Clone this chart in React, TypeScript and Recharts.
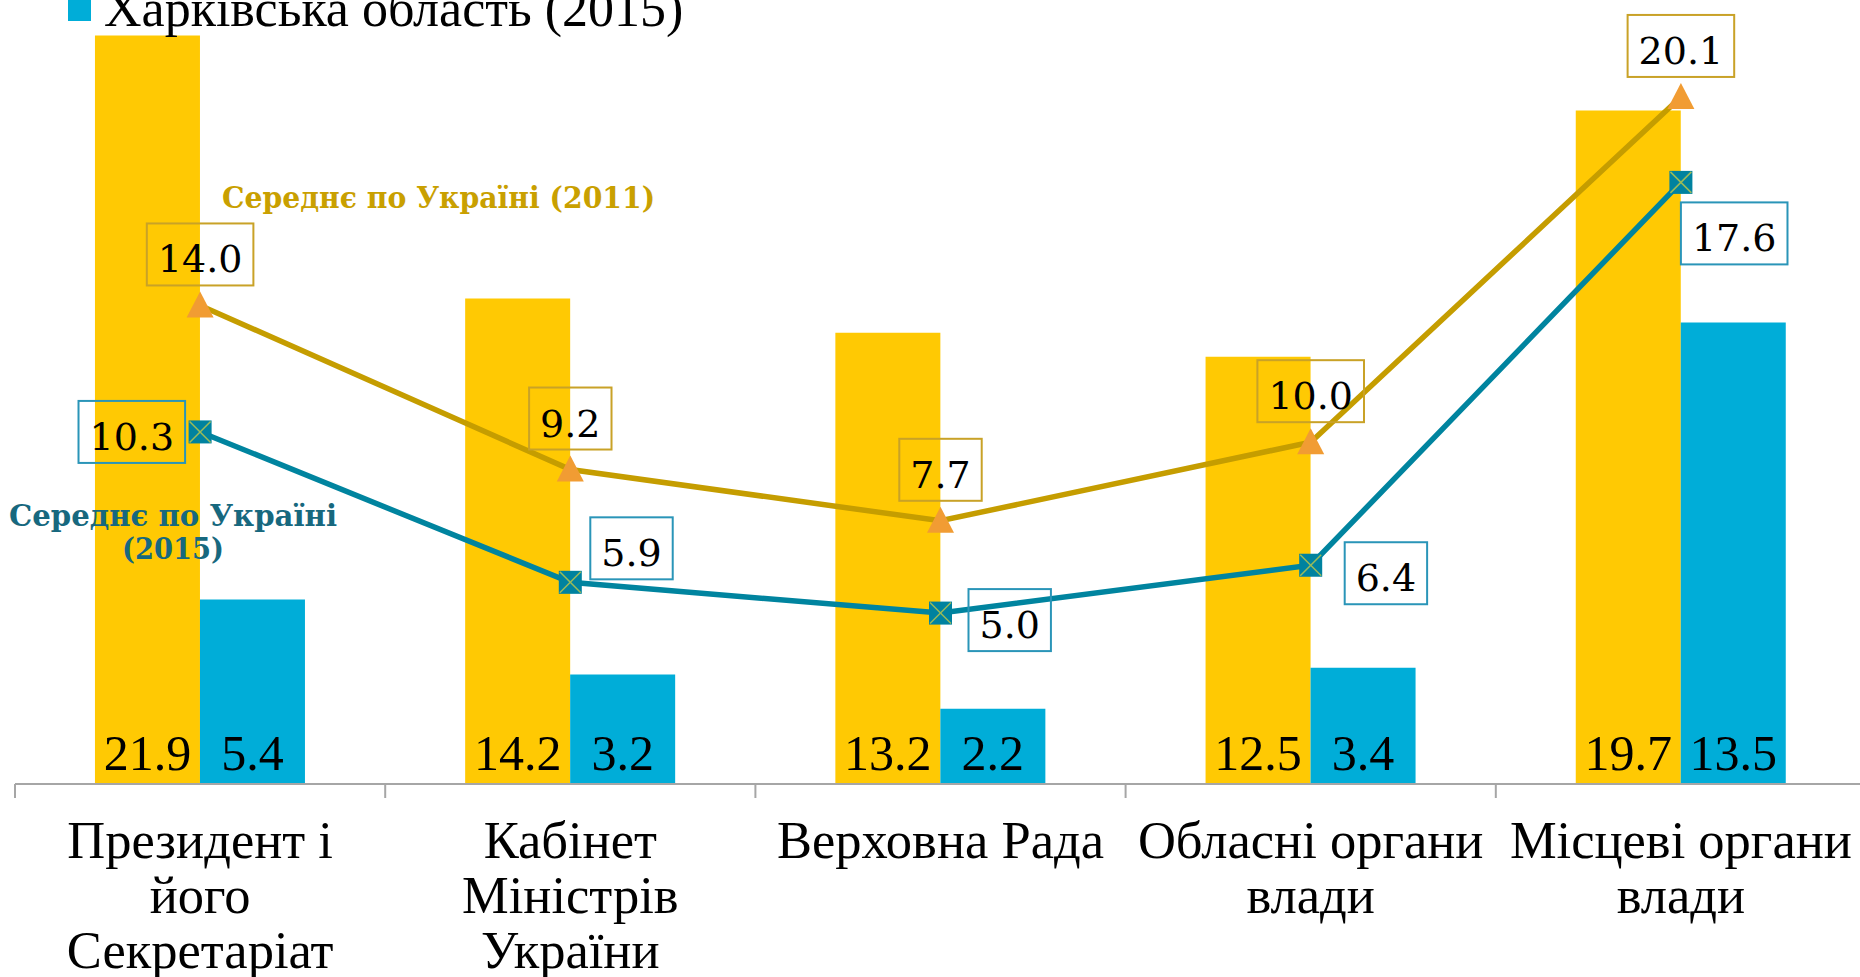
import React from 'react';
import { ComposedChart, Bar, Line, XAxis, YAxis, LabelList } from 'recharts';

const CATEGORIES = [
  'Президент і\nйого\nСекретаріат',
  'Кабінет\nМіністрів\nУкраїни',
  'Верховна Рада',
  'Обласні органи\nвлади',
  'Місцеві органи\nвлади',
];
const KHARKIV_2011 = [21.9, 14.2, 13.2, 12.5, 19.7];
const KHARKIV_2015 = [5.4, 3.2, 2.2, 3.4, 13.5];
const UKRAINE_2011 = [14.0, 9.2, 7.7, 10.0, 20.1];
const UKRAINE_2015 = [10.3, 5.9, 5.0, 6.4, 17.6];

const data = CATEGORIES.map((name, i) => ({
  name,
  k2011: KHARKIV_2011[i],
  k2015: KHARKIV_2015[i],
  u2011: UKRAINE_2011[i],
  u2015: UKRAINE_2015[i],
}));

const W = 1866;
const H = 977;
const MARGIN = { top: 32, right: 0, bottom: 0, left: 15 };
const BAND = (W - MARGIN.left - MARGIN.right) / CATEGORIES.length;

const YELLOW = '#FFC903';
const CYAN = '#00ADD8';
const GOLD = '#C59D00';
const TEAL = '#00849F';
const AXIS = '#A6A6A6';

const BOX_FONT = 38;
const BOX_H = 62;

// placement of the 2015 boxes next to their markers (box left / top offsets)
const TEAL_BOX = [
  { dx: -15, dy: -31, alignRight: true },
  { dx: 20, dy: -65 },
  { dx: 28, dy: -24 },
  { dx: 34, dy: -23 },
  { dx: 0, dy: 20 },
];

const boxWidth = (s: string) => {
  let w = 0;
  for (const ch of s) w += ch === '.' ? 0.318 : 0.636;
  return w * BOX_FONT + 22;
};

const CategoryTick = (props: any) => {
  const { x, y, payload } = props;
  const lines = String(payload.value).split('\n');
  const left = x - BAND / 2;
  return (
    <g>
      <line x1={left} y1={y} x2={left} y2={y + 14} stroke={AXIS} strokeWidth={2} />
      {lines.map((ln, i) => (
        <text
          key={i}
          x={x}
          y={y + 74 + i * 55}
          textAnchor="middle"
          fontFamily="'Liberation Serif', serif"
          fontSize={52.5}
          fill="#000"
        >
          {ln}
        </text>
      ))}
    </g>
  );
};

const BarValue = (props: any) => {
  const { x, y, width, height, value } = props;
  return (
    <text
      x={x + width / 2}
      y={y + height - 14}
      textAnchor="middle"
      fontFamily="'Liberation Serif', serif"
      fontSize={50}
      fill="#000"
    >
      {Number(value).toFixed(1)}
    </text>
  );
};

const Triangle = (props: any) => {
  const { cx, cy } = props;
  if (cx == null || cy == null) return null;
  return (
    <path
      d={`M${cx},${cy - 14} L${cx + 13.5},${cy + 12} L${cx - 13.5},${cy + 12} Z`}
      fill="#F19C33"
    />
  );
};

const CrossSquare = (props: any) => {
  const { cx, cy } = props;
  if (cx == null || cy == null) return null;
  const s = 11.5;
  return (
    <g>
      <rect x={cx - s} y={cy - s} width={s * 2} height={s * 2} fill="#00829F" />
      <line x1={cx - s + 1} y1={cy - s + 1} x2={cx + s - 1} y2={cy + s - 1} stroke="#9BBB59" strokeWidth={1.5} />
      <line x1={cx + s - 1} y1={cy - s + 1} x2={cx - s + 1} y2={cy + s - 1} stroke="#9BBB59" strokeWidth={1.5} />
    </g>
  );
};

const Box = ({ left, top, text, color }: { left: number; top: number; text: string; color: string }) => {
  const w = boxWidth(text);
  return (
    <g>
      <rect x={left} y={top} width={w} height={BOX_H} fill="none" stroke={color} strokeWidth={2} />
      <text
        x={left + w / 2}
        y={top + 49}
        textAnchor="middle"
        fontFamily="'DejaVu Serif', serif"
        fontSize={BOX_FONT}
        fill="#000"
      >
        {text}
      </text>
    </g>
  );
};

const GoldLabel = (props: any) => {
  const { x, y, value } = props;
  const text = Number(value).toFixed(1);
  const w = boxWidth(text);
  return <Box left={x - w / 2} top={y - 20 - BOX_H} text={text} color="#C9A227" />;
};

const TealLabel = (props: any) => {
  const { x, y, value, index } = props;
  const text = Number(value).toFixed(1);
  const w = boxWidth(text);
  const p: any = TEAL_BOX[index] || { dx: 20, dy: -30 };
  const left = p.alignRight ? x + p.dx - w : x + p.dx;
  return <Box left={left} top={y + p.dy} text={text} color="#2A95B8" />;
};

export default function App() {
  return (
    <div style={{ position: 'absolute', left: 0, top: 0, width: 1860, height: 977, overflow: 'hidden', background: '#fff' }}>
      <ComposedChart width={W} height={H} data={data} margin={MARGIN} barCategoryGap="21.6%" barGap={0}>
        <XAxis
          dataKey="name"
          height={193}
          interval={0}
          tickLine={false}
          tickSize={0}
          tickMargin={0}
          axisLine={{ stroke: AXIS, strokeWidth: 2 }}
          tick={<CategoryTick />}
        />
        <YAxis hide domain={[0, 22]} />
        <Bar dataKey="k2011" fill={YELLOW} isAnimationActive={false}>
          <LabelList dataKey="k2011" content={<BarValue />} />
        </Bar>
        <Bar dataKey="k2015" fill={CYAN} isAnimationActive={false}>
          <LabelList dataKey="k2015" content={<BarValue />} />
        </Bar>
        <Line
          type="linear"
          dataKey="u2011"
          stroke={GOLD}
          strokeWidth={5.5}
          dot={<Triangle />}
          activeDot={false}
          isAnimationActive={false}
        >
          <LabelList dataKey="u2011" content={<GoldLabel />} />
        </Line>
        <Line
          type="linear"
          dataKey="u2015"
          stroke={TEAL}
          strokeWidth={5.5}
          dot={<CrossSquare />}
          activeDot={false}
          isAnimationActive={false}
        >
          <LabelList dataKey="u2015" content={<TealLabel />} />
        </Line>
      </ComposedChart>
      <svg width={1860} height={977} style={{ position: 'absolute', left: 0, top: 0, pointerEvents: 'none' }}>
        <rect x={68} y={-2} width={23} height={23} fill={CYAN} />
        <text x={104} y={26} fontFamily="'Liberation Serif', serif" fontSize={52} fill="#000">
          Харківська область (2015)
        </text>
        <text
          x={222}
          y={208}
          fontFamily="'DejaVu Serif', serif"
          fontWeight="bold"
          fontSize={30}
          fill="#C9A000"
          textLength={433}
          lengthAdjust="spacingAndGlyphs"
        >
          Середнє по Україні (2011)
        </text>
        <text
          x={173}
          y={526}
          textAnchor="middle"
          fontFamily="'DejaVu Serif', serif"
          fontWeight="bold"
          fontSize={30}
          fill="#17687E"
          textLength={328}
          lengthAdjust="spacingAndGlyphs"
        >
          Середнє по Україні
        </text>
        <text
          x={173}
          y={559}
          textAnchor="middle"
          fontFamily="'DejaVu Serif', serif"
          fontWeight="bold"
          fontSize={30}
          fill="#17687E"
          textLength={102}
          lengthAdjust="spacingAndGlyphs"
        >
          (2015)
        </text>
      </svg>
    </div>
  );
}
